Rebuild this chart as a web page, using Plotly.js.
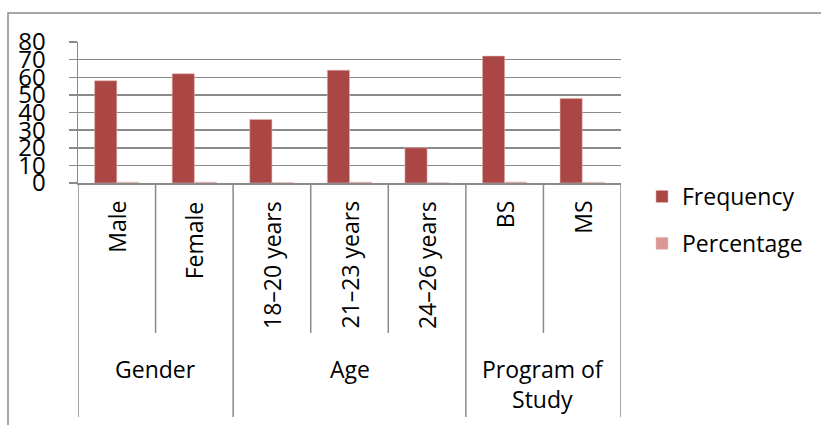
<!DOCTYPE html>
<html>
<head>
<meta charset="utf-8">
<script src="https://cdn.plot.ly/plotly-3.0.1.min.js"></script>
<style>
  html, body { margin: 0; padding: 0; background: #fff; }
  #chart { width: 821px; height: 425px; }
</style>
</head>
<body>
<div id="chart"></div>
<script>
// ---- data ----
const categories = ["Male", "Female", "18\u201320 years", "21\u201323 years", "24\u201326 years", "BS", "MS"];
const groups = ["Gender", "Age", "Program of<br>Study"];
const groupSpans = [[0, 1], [2, 4], [5, 6]];
const frequency = [58, 62, 36, 64, 20, 72, 48];
const percentage = [0.483, 0.517, 0.30, 0.533, 0.167, 0.60, 0.40];
const yTicks = [0, 10, 20, 30, 40, 50, 60, 70, 80];

// ---- geometry helpers (pixel -> paper) ----
const L = 78, R = 621, T = 42, B = 183;
const py = p => (B - p) / (B - T);
const px = p => (p - L) / (R - L);

const gray = "#8a8a8a";
const font = "'Open Sans', 'Noto Sans', sans-serif";

const traces = [
  { type: "bar", name: "Frequency", x: categories, y: frequency,
    marker: { color: "#AA4643", line: { color: "#e2b4b2", width: 0.6 } },
    legendgroup: "a" },
  { type: "bar", name: "Percentage", x: categories, y: percentage,
    marker: { color: "#D99694", line: { color: "#e8c4c3", width: 0.6 } },
    legendgroup: "b" }
];

const shapes = [];
const annotations = [];

// outer border
shapes.push({ type: "rect", xref: "paper", yref: "paper",
  x0: px(8), x1: px(840), y0: py(450), y1: py(13),
  line: { color: gray, width: 1.5 }, fillcolor: "rgba(0,0,0,0)", layer: "below" });

// inner dividers (between categories of same group)
const groupEdges = [-0.5];
groupSpans.forEach(s => groupEdges.push(s[1] + 0.5));
for (let i = 0; i < categories.length - 1; i++) {
  const pos = i + 0.5;
  if (!groupEdges.includes(pos)) {
    shapes.push({ type: "line", xref: "x", yref: "paper", x0: pos, x1: pos,
      y0: py(183), y1: py(333), line: { color: gray, width: 1.5 } });
  }
}
groupEdges.forEach(pos => {
  shapes.push({ type: "line", xref: "x", yref: "paper", x0: pos, x1: pos,
    y0: py(183), y1: py(417), line: { color: gray, width: 1.5 } });
});

// category labels (rotated)
categories.forEach((c, i) => {
  annotations.push({ x: i, xref: "x", y: py(199), yref: "paper", text: c,
    textangle: -90, showarrow: false, xanchor: "center", yanchor: "top",
    font: { family: font, size: 23, color: "#000" } });
});
// group labels
groups.forEach((g, k) => {
  annotations.push({ x: (groupSpans[k][0] + groupSpans[k][1]) / 2, xref: "x",
    y: py(351), yref: "paper", text: g, showarrow: false,
    xanchor: "center", yanchor: "top",
    font: { family: font, size: 23, color: "#000" } });
});

const layout = {
  width: 821, height: 425,
  margin: { l: L, r: 821 - R, t: T, b: 425 - B, pad: 0 },
  paper_bgcolor: "#fff", plot_bgcolor: "#fff",
  barmode: "group", bargap: 0.4286, bargroupgap: 0,
  showlegend: true,
  legend: { x: px(642), xanchor: "left", y: py(175), yanchor: "top",
    font: { family: font, size: 23, color: "#000" },
    traceorder: "grouped", tracegroupgap: 14, bgcolor: "rgba(0,0,0,0)" },
  xaxis: { type: "category", range: [-0.5, 6.5], showticklabels: false,
    ticks: "", showgrid: false, showline: true, linecolor: gray, linewidth: 1.5,
    zeroline: false, fixedrange: true },
  yaxis: { range: [0, 80], tickvals: yTicks, ticktext: yTicks.map(String),
    showgrid: true, gridcolor: gray, gridwidth: 1.5,
    showline: true, linecolor: gray, linewidth: 1.5,
    ticks: "outside", ticklen: 8, tickcolor: gray, tickwidth: 1.5,
    ticklabelstandoff: 18,
    tickfont: { family: font, size: 24, color: "#000" },
    zeroline: false, fixedrange: true },
  shapes: shapes,
  annotations: annotations
};

Plotly.newPlot("chart", traces, layout, { displayModeBar: false, staticPlot: true });
</script>
</body>
</html>
